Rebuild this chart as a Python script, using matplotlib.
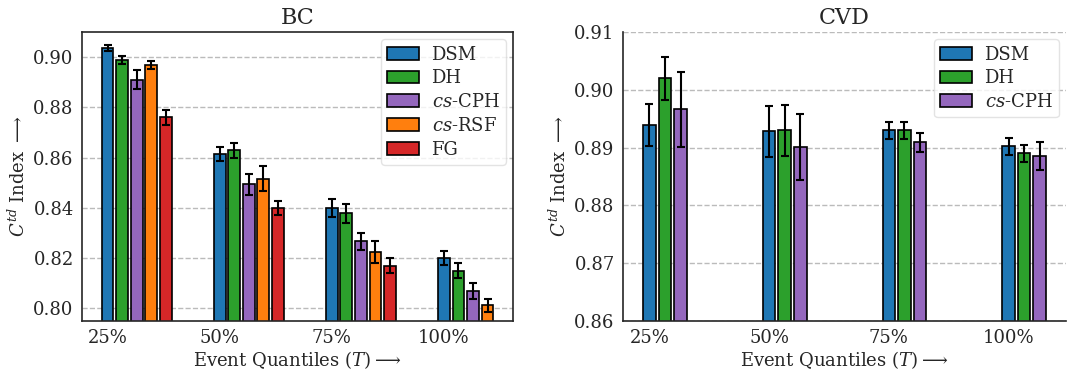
import numpy as np
import matplotlib
matplotlib.use("Agg")
import matplotlib.pyplot as plt
import seaborn as sns

quantiles = ['25%', '50%', '75%', '100%']

# BC dataset: mean C^td and half-width of the error bar per model
bc_models = ['DSM', 'DH', '$cs$-CPH', '$cs$-RSF', 'FG']
bc_mean = [
    [0.9036, 0.8614, 0.8398, 0.8200],
    [0.8989, 0.8629, 0.8379, 0.8150],
    [0.8910, 0.8494, 0.8268, 0.8071],
    [0.8967, 0.8517, 0.8225, 0.8012],
    [0.8760, 0.8400, 0.8170, np.nan],
]
bc_err = [
    [0.0013, 0.0029, 0.0036, 0.0028],
    [0.0015, 0.0029, 0.0038, 0.0029],
    [0.0038, 0.0042, 0.0034, 0.0032],
    [0.0016, 0.0048, 0.0045, 0.0026],
    [0.0030, 0.0029, 0.0029, np.nan],
]

# CVD dataset
cvd_models = ['DSM', 'DH', '$cs$-CPH']
cvd_mean = [
    [0.8939, 0.8928, 0.8930, 0.8902],
    [0.9020, 0.8930, 0.8930, 0.8890],
    [0.8966, 0.8901, 0.8909, 0.8886],
]
cvd_err = [
    [0.0037, 0.0044, 0.0015, 0.0015],
    [0.0037, 0.0044, 0.0015, 0.0015],
    [0.0065, 0.0057, 0.0017, 0.0024],
]

colors = ['#1f77b4', '#2ca02c', '#9467bd', '#ff7f0e', '#d62728']

sns.set_style('white')
plt.rcParams['font.family'] = ['DejaVu Serif']
plt.rcParams['mathtext.fontset'] = 'dejavuserif'
plt.rcParams['font.size'] = 13


def draw(ax, title, models, means, errs, ylim, yticks):
    x = np.arange(len(quantiles))
    step, width = 0.13, 0.105
    for j, name in enumerate(models):
        ax.bar(x + j * step, means[j], width, yerr=errs[j], color=colors[j],
               edgecolor='black', linewidth=1.2, label=name,
               error_kw=dict(ecolor='black', elinewidth=1.5, capsize=2.8,
                             capthick=1.5))
    ax.set_xticks(x)
    ax.set_xticklabels(quantiles, fontsize=13)
    ax.set_ylim(*ylim)
    ax.set_yticks(yticks)
    ax.set_yticklabels(['%.2f' % t for t in yticks], fontsize=13)
    ax.tick_params(axis='both', length=0, pad=6)
    ax.yaxis.grid(True, ls='--', color='#bbbbbb', lw=1)
    ax.set_axisbelow(True)
    ax.set_title(title, fontsize=16)
    ax.set_xlabel(r'Event Quantiles ($T$)$\longrightarrow$', fontsize=13,
                  labelpad=1)
    ax.set_ylabel(r'$C^{td}$ Index $\longrightarrow$', fontsize=13,
                  labelpad=3)
    for s in ax.spines.values():
        s.set_color('0.15')
        s.set_linewidth(1.2)
    leg = ax.legend(loc='upper right', fontsize=13, frameon=True,
                    borderaxespad=0.4, borderpad=0.35, labelspacing=0.32,
                    handlelength=1.75, handletextpad=0.7)
    leg.get_frame().set_edgecolor('#dddddd')


fig = plt.figure(figsize=(10.67, 3.77), dpi=100)
ax1 = fig.add_axes([0.0769, 0.1485, 0.4039, 0.7666])
ax2 = fig.add_axes([0.5839, 0.1485, 0.4152, 0.7666])

draw(ax1, 'BC', bc_models, bc_mean, bc_err, (0.795, 0.910),
     [0.80, 0.82, 0.84, 0.86, 0.88, 0.90])
draw(ax2, 'CVD', cvd_models, cvd_mean, cvd_err, (0.86, 0.91),
     [0.86, 0.87, 0.88, 0.89, 0.90, 0.91])
ax2.spines['top'].set_visible(False)
ax2.spines['right'].set_visible(False)

fig.savefig('out.png', dpi=100)
